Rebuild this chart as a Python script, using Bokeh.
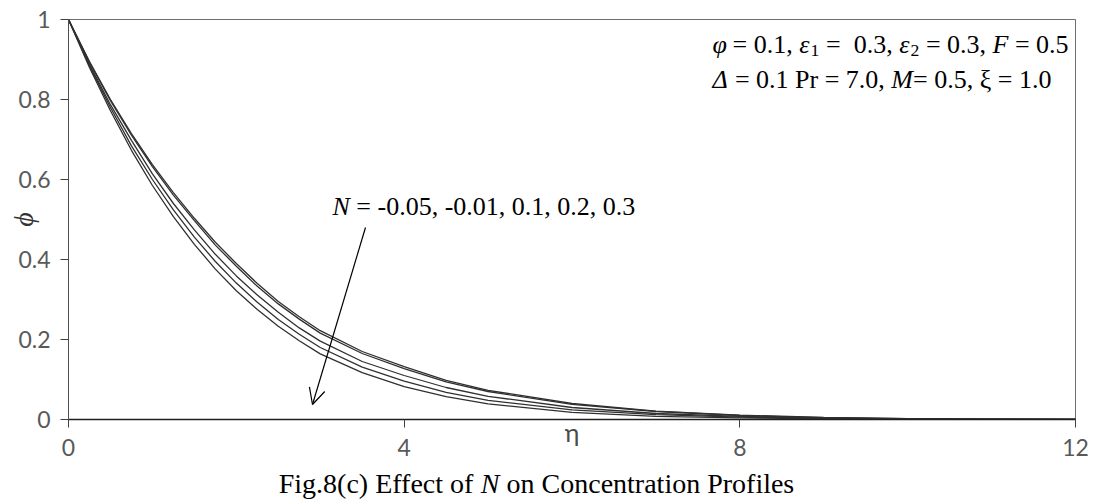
import math
from bokeh.plotting import figure
from bokeh.layouts import column
from bokeh.models import Label, Arrow, OpenHead, FixedTicker, Range1d, ColumnDataSource
from bokeh.embed import file_html
from bokeh.resources import INLINE

# ---------------- data ----------------
eta = [0, 0.25, 0.5, 0.75, 1, 1.25, 1.5, 1.75, 2, 2.25, 2.5, 2.75, 3, 3.5, 4,
       4.5, 5, 6, 7, 8, 9, 10, 11, 12]
phi_N_m005 = [1, 0.895, 0.800, 0.715, 0.637, 0.567, 0.503, 0.443, 0.390, 0.340,
              0.295, 0.257, 0.222, 0.170, 0.132, 0.098, 0.073, 0.040, 0.021,
              0.011, 0.005, 0.002, 0.001, 0]
phi_N_m001 = [1, 0.893, 0.797, 0.711, 0.632, 0.561, 0.497, 0.436, 0.383, 0.333,
              0.289, 0.251, 0.216, 0.165, 0.127, 0.094, 0.070, 0.038, 0.020,
              0.010, 0.0047, 0.0019, 0.0009, 0]
phi_N_01 = [1, 0.888, 0.787, 0.698, 0.614, 0.540, 0.474, 0.413, 0.359, 0.311,
            0.268, 0.229, 0.196, 0.145, 0.110, 0.080, 0.058, 0.030, 0.015,
            0.008, 0.0035, 0.0014, 0.0007, 0]
phi_N_02 = [1, 0.884, 0.780, 0.684, 0.600, 0.524, 0.456, 0.395, 0.341, 0.293,
            0.250, 0.213, 0.180, 0.131, 0.096, 0.068, 0.048, 0.024, 0.012,
            0.006, 0.0026, 0.001, 0.0005, 0]
phi_N_03 = [1, 0.880, 0.772, 0.673, 0.585, 0.507, 0.438, 0.376, 0.322, 0.275,
            0.233, 0.197, 0.164, 0.117, 0.082, 0.057, 0.039, 0.018, 0.008,
            0.004, 0.0017, 0.0007, 0.0003, 0]
N_values = [-0.05, -0.01, 0.1, 0.2, 0.3]
x_ticks = [0, 4, 8, 12]
y_ticks = [0, 0.2, 0.4, 0.6, 0.8, 1]
y_tick_labels = ["0", "0.2", "0.4", "0.6", "0.8", "1"]

# ---------------- layout ----------------
W, H = 1094, 503
MAIN_H = 465            # main figure height; caption strip below
CAP_H = H - MAIN_H
FL, FR, FT, FB = 68, 1075, 19, 419
XMAX, YMAX = 12, 1


def sx(px):
    return (px - FL) / (FR - FL) * XMAX


def sy(py):
    return (FB - py) / (FB - FT) * YMAX


p = figure(width=W, height=MAIN_H, title=None,
           x_range=Range1d(0, XMAX), y_range=Range1d(0, YMAX),
           min_border_left=FL, min_border_right=W - FR,
           min_border_top=FT, min_border_bottom=MAIN_H - FB,
           output_backend="svg", toolbar_location=None)
p.background_fill_color = "white"
p.border_fill_color = "white"
p.outline_line_color = "#6e6e6e"
p.outline_line_width = 1
p.xgrid.visible = False
p.ygrid.visible = False

src = ColumnDataSource(dict(eta=eta, a=phi_N_m005, b=phi_N_m001, c=phi_N_01,
                            d=phi_N_02, e=phi_N_03))
for col in ["a", "b", "c", "d", "e"]:
    p.line("eta", col, source=src, line_color="#303030", line_width=1.3)

for ax in (p.xaxis[0], p.yaxis[0]):
    ax.major_tick_in = 0
    ax.major_tick_out = 8
    ax.minor_tick_line_color = None
    ax.major_label_text_font = "Lato"
    ax.major_label_text_font_size = "23px"
    ax.major_label_text_color = "#595959"
    ax.major_tick_line_color = "#404040"

p.xaxis.ticker = FixedTicker(ticks=x_ticks)
p.yaxis.ticker = FixedTicker(ticks=y_ticks)
p.yaxis.major_label_overrides = {t: l for t, l in zip(y_ticks, y_tick_labels)}
p.xaxis.axis_line_color = "#202020"
p.xaxis.axis_line_width = 1.3
p.yaxis.axis_line_color = "#505050"
p.xaxis.major_label_standoff = 11
p.yaxis.major_label_standoff = 10

# axis titles
p.xaxis.axis_label = "η"
p.xaxis.axis_label_text_font = "Lato"
p.xaxis.axis_label_text_font_size = "25px"
p.xaxis.axis_label_text_font_style = "normal"
p.xaxis.axis_label_text_color = "#4a4a4a"
p.xaxis.axis_label_standoff = -42

p.yaxis.axis_label = "ϕ"
p.yaxis.axis_label_text_font = "Liberation Serif"
p.yaxis.axis_label_text_font_size = "28px"
p.yaxis.axis_label_text_font_style = "italic"
p.yaxis.axis_label_text_color = "#333333"
p.yaxis.axis_label_standoff = -24

# caption strip (no axes); its frame lines up with the main frame,
# so its x range is expressed in page pixels between the frame edges
cap = figure(width=W, height=CAP_H, title=None,
             x_range=Range1d(FL, FR), y_range=Range1d(0, CAP_H),
             x_axis_type=None, y_axis_type=None,
             min_border=0, output_backend="svg", toolbar_location=None)
cap.grid.visible = False
cap.outline_line_color = None
cap.background_fill_color = "white"
cap.border_fill_color = "white"

# ---------------- text helpers (Times-like widths) ----------------
TR = {' ': 250, ',': 250, '-': 333, '.': 250, '=': 564, '(': 333, ')': 333,
      'C': 667, 'E': 611, 'F': 556, 'M': 889, 'N': 722, 'P': 556,
      'a': 444, 'c': 444, 'e': 444, 'f': 333, 'g': 500, 'i': 278, 'l': 278,
      'n': 500, 'o': 500, 'r': 333, 's': 389, 't': 278, 'u': 500,
      'φ': 521, 'ε': 439, 'Δ': 612, 'ξ': 438}
TI = {'F': 611, 'M': 833, 'N': 667}


def tw(t, italic=False):
    w = 0
    for ch in t:
        if italic and ch in TI:
            w += TI[ch]
        elif ch.isdigit():
            w += 500
        else:
            w += TR.get(ch, 500)
    return w / 1000.0


def run(fig, fx, fy, parts, x0, base, size, color="black"):
    x = x0
    for t, st in parts:
        italic = st == "i"
        fs = size * 0.68 if st == "sub" else size
        b = base + (size * 0.22 if st == "sub" else 0)
        lead = len(t) - len(t.lstrip(" "))
        txt = t.strip(" ")
        xd = x + tw(" " * lead) * fs
        if txt:
            fig.add_layout(Label(x=fx(xd), y=fy(b), text=txt,
                                 text_font="Liberation Serif",
                                 text_font_size=f"{fs:.1f}px",
                                 text_font_style="italic" if italic else "normal",
                                 text_color=color, text_align="left",
                                 text_baseline="alphabetic"))
        x += tw(t, italic) * fs


def width(parts, size):
    return sum(tw(t, st == "i") * (size * 0.68 if st == "sub" else size)
               for t, st in parts)


line1 = [("φ", "i"), (" = 0.1, ", "n"), ("ε", "i"), ("1", "sub"),
         (" =", "n"), ("  0.3, ", "n"), ("ε", "i"), ("2", "sub"),
         (" = 0.3, ", "n"), ("F", "i"), (" = 0.5", "n")]
line2 = [("Δ", "i"), (" = 0.1 Pr = 7.0, ", "n"), ("M", "i"),
         ("= 0.5, ξ = 1.0", "n")]
nlab = [("N", "i"), (" = -0.05, -0.01, 0.1, 0.2, 0.3", "n")]
caption = [("Fig.8(c) Effect of", "n"), (" N", "i"),
           (" on Concentration Profiles", "n")]

run(p, sx, sy, line1, 712, 44, 26)
run(p, sx, sy, line2, 712, 79, 26)
run(p, sx, sy, nlab, 332, 206, 26)
cap_size = 28
run(cap, lambda v: v, lambda v: CAP_H - (v - MAIN_H), caption,
    536 - width(caption, cap_size) / 2, 483, cap_size)

# arrow
p.add_layout(Arrow(x_start=sx(365), y_start=sy(227), x_end=sx(312), y_end=sy(404),
                   line_color="black", line_width=1.2,
                   end=OpenHead(size=16, line_color="black", line_width=1.2)))

layout = column(p, cap, spacing=0)
open("out.html", "w").write(file_html(layout, INLINE))
